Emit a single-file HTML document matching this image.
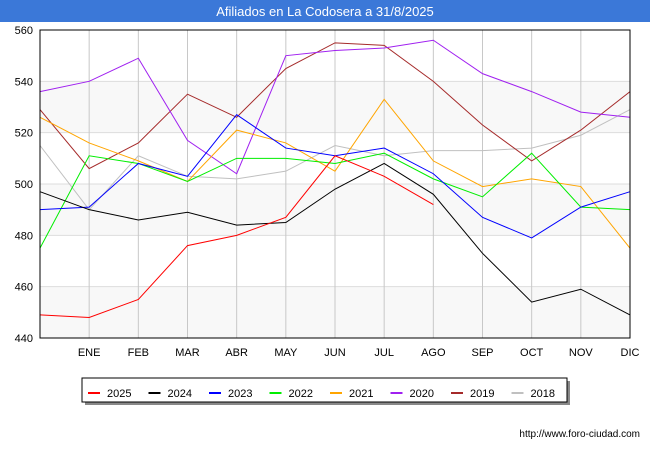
<!DOCTYPE html>
<html><head><meta charset="utf-8"><style>
body{margin:0;width:650px;height:450px;background:#fff;font-family:"Liberation Sans",sans-serif;overflow:hidden}
</style></head><body>
<svg width="650" height="450" id="svg" font-family="Liberation Sans, sans-serif">
<rect x="0" y="0" width="650" height="22" fill="#3b78d8"/>
<text x="325" y="16" text-anchor="middle" fill="#fff" font-size="13">Afiliados en La Codosera a 31/8/2025</text>
<g id="grid"></g><g id="lines"></g>
<rect x="40" y="30" width="590" height="308" fill="none" stroke="#000"/>
<g id="legend"></g>
<text x="640" y="437" text-anchor="end" font-size="10">http://www.foro-ciudad.com</text>
</svg>
<script>
const months=["","ENE","FEB","MAR","ABR","MAY","JUN","JUL","AGO","SEP","OCT","NOV","DIC"];
const yTicks=[440,460,480,500,520,540,560];
const seriesNames=["2025","2024","2023","2022","2021","2020","2019","2018"];
const colors=["#ff0000","#000000","#0000ff","#00ee00","#ffa500","#a020f0","#a52a2a","#c0c0c0"];
const s2025=[449,448,455,476,480,487,511,503,492];
const s2024=[497,490,486,489,484,485,498,508,496,473,454,459,449];
const s2023=[490,491,508,503,527,514,511,514,504,487,479,491,497];
const s2022=[475,511,508,501,510,510,508,512,502,495,512,491,490];
const s2021=[526,516,509,501,521,516,505,533,509,499,502,499,475];
const s2020=[536,540,549,517,504,550,552,553,556,543,536,528,526];
const s2019=[529,506,516,535,526,545,555,554,540,523,509,521,536];
const s2018=[515,490,511,503,502,505,515,511,513,513,514,519,529];
const all=[s2025,s2024,s2023,s2022,s2021,s2020,s2019,s2018];
const NS="http://www.w3.org/2000/svg";
const X=i=>40+i*(590/12), Y=v=>338-(v-440)*(308/120);
function mk(t,a,p){const e=document.createElementNS(NS,t);for(const k in a)e.setAttribute(k,a[k]);p.appendChild(e);return e;}
const g=document.getElementById('grid');
for(let i=0;i<yTicks.length-1;i++){if(i%2==0){const r=mk('rect',{x:40,y:Y(yTicks[i+1]),width:590,height:Y(yTicks[i])-Y(yTicks[i+1]),fill:'#f8f8f8'},g);

}}
yTicks.forEach(v=>{const l=mk('line',{x1:40,x2:630,y1:Y(v),y2:Y(v),stroke:'#ddd'},g);


const t=mk('text',{x:33,y:Y(v)+4,'text-anchor':'end','font-size':11},g);t.textContent=v;

});
months.forEach((m,i)=>{if(i==0)return;const l=mk('line',{x1:X(i),x2:X(i),y1:30,y2:338,stroke:'#c8c8c8'},g);


const t=mk('text',{x:X(i),y:356,'text-anchor':'middle','font-size':11},g);t.textContent=m;

});
const lg=document.getElementById('lines');
for(let s=all.length-1;s>=0;s--){const p=mk('polyline',{points:all[s].map((v,i)=>X(i)+','+Y(v)).join(' '),fill:'none',stroke:colors[s],'stroke-width':1},lg);

}
const L=document.getElementById('legend');
mk('rect',{x:85,y:381,width:485,height:24,fill:'#888'},L);
const b=mk('rect',{x:82,y:378,width:485,height:24,fill:'#fff',stroke:'#000'},L);


seriesNames.forEach((n,i)=>{const x=88+i*60.5;mk('line',{x1:x,x2:x+12,y1:393,y2:393,stroke:colors[i],'stroke-width':2},L);
const t=mk('text',{x:x+19,y:397,'font-size':11},L);t.textContent=n;

});
</script>
</body></html>
